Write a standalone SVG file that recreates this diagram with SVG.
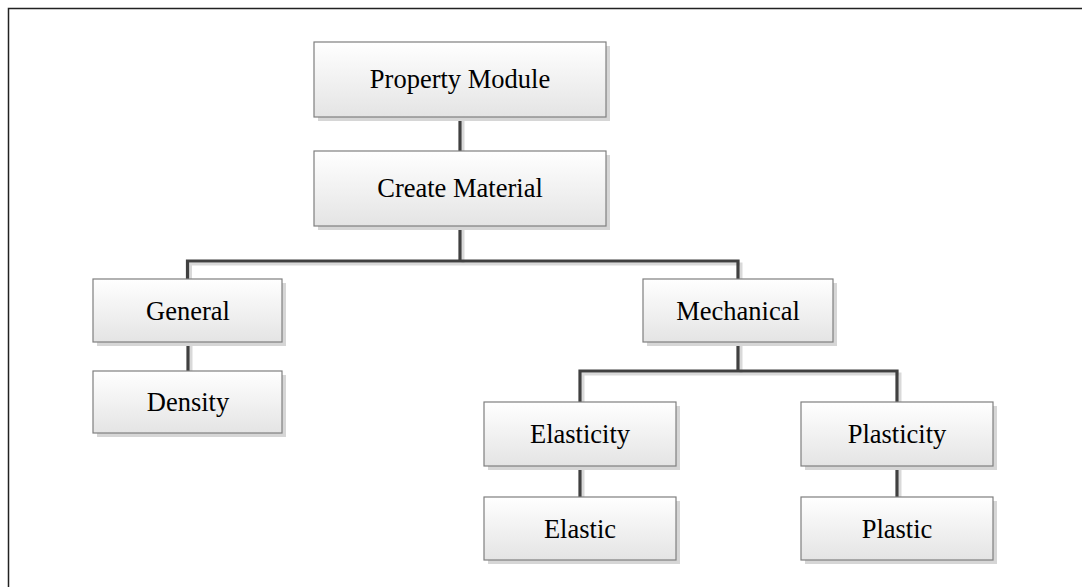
<svg xmlns="http://www.w3.org/2000/svg" width="1082" height="587" viewBox="0 0 1082 587">
  <defs>
    <linearGradient id="boxFill" x1="0" y1="0" x2="0" y2="1">
      <stop offset="0" stop-color="#ffffff"/>
      <stop offset="1" stop-color="#e4e4e4"/>
    </linearGradient>
  </defs>
  <style>
    .frame { fill: none; stroke: #222222; stroke-width: 1.5; }
    .shadow { fill: #d6d6d6; }
    .box { fill: url(#boxFill); stroke: #7f7f7f; stroke-width: 1.2; }
    .label { font-family: "Liberation Serif", "Times New Roman", serif; font-size: 26.5px; fill: #000000; text-anchor: middle; }
    .wire { fill: none; stroke: #404040; stroke-width: 3.2; stroke-linejoin: miter; stroke-linecap: butt; }
    .wire-shadow { fill: none; stroke: #d9d9d9; stroke-width: 3; }
  </style>

  <rect class="frame" x="8.5" y="8.5" width="1090" height="600"/>

  <!-- connectors -->
  <g id="connectors">
    <g transform="translate(3,3)">
      <path class="wire-shadow" d="M460,117 V151"/>
      <path class="wire-shadow" d="M460,226 V261 M187.5,279 V261 H738 V279"/>
      <path class="wire-shadow" d="M188,342 V371"/>
      <path class="wire-shadow" d="M738,342 V371 M580,402 V371 H897 V402"/>
      <path class="wire-shadow" d="M580,466 V497 M897,466 V497"/>
    </g>
    <path class="wire" d="M460,117 V151"/>
    <path class="wire" d="M460,226 V261 M187.5,279 V261 H738 V279"/>
    <path class="wire" d="M188,342 V371"/>
    <path class="wire" d="M738,342 V371 M580,402 V371 H897 V402"/>
    <path class="wire" d="M580,466 V497 M897,466 V497"/>
  </g>

  <g id="property-module">
    <rect class="shadow" x="318" y="46" width="292" height="75"/>
    <rect class="box" x="314" y="42" width="292" height="75"/>
    <text class="label" x="460" y="88">Property Module</text>
  </g>

  <g id="create-material">
    <rect class="shadow" x="318" y="155" width="292" height="75"/>
    <rect class="box" x="314" y="151" width="292" height="75"/>
    <text class="label" x="460" y="197">Create Material</text>
  </g>

  <g id="general">
    <rect class="shadow" x="97" y="283" width="189" height="63"/>
    <rect class="box" x="93" y="279" width="189" height="63"/>
    <text class="label" x="188" y="319.5">General</text>
  </g>

  <g id="density">
    <rect class="shadow" x="97" y="375" width="189" height="62"/>
    <rect class="box" x="93" y="371" width="189" height="62"/>
    <text class="label" x="188" y="411">Density</text>
  </g>

  <g id="mechanical">
    <rect class="shadow" x="647" y="283" width="190" height="63"/>
    <rect class="box" x="643" y="279" width="190" height="63"/>
    <text class="label" x="738" y="319.5">Mechanical</text>
  </g>

  <g id="elasticity">
    <rect class="shadow" x="488" y="406" width="192" height="64"/>
    <rect class="box" x="484" y="402" width="192" height="64"/>
    <text class="label" x="580" y="443">Elasticity</text>
  </g>

  <g id="elastic">
    <rect class="shadow" x="488" y="501" width="192" height="63"/>
    <rect class="box" x="484" y="497" width="192" height="63"/>
    <text class="label" x="580" y="537.5">Elastic</text>
  </g>

  <g id="plasticity">
    <rect class="shadow" x="805" y="406" width="192" height="64"/>
    <rect class="box" x="801" y="402" width="192" height="64"/>
    <text class="label" x="897" y="443">Plasticity</text>
  </g>

  <g id="plastic">
    <rect class="shadow" x="805" y="501" width="192" height="63"/>
    <rect class="box" x="801" y="497" width="192" height="63"/>
    <text class="label" x="897" y="537.5">Plastic</text>
  </g>
</svg>
